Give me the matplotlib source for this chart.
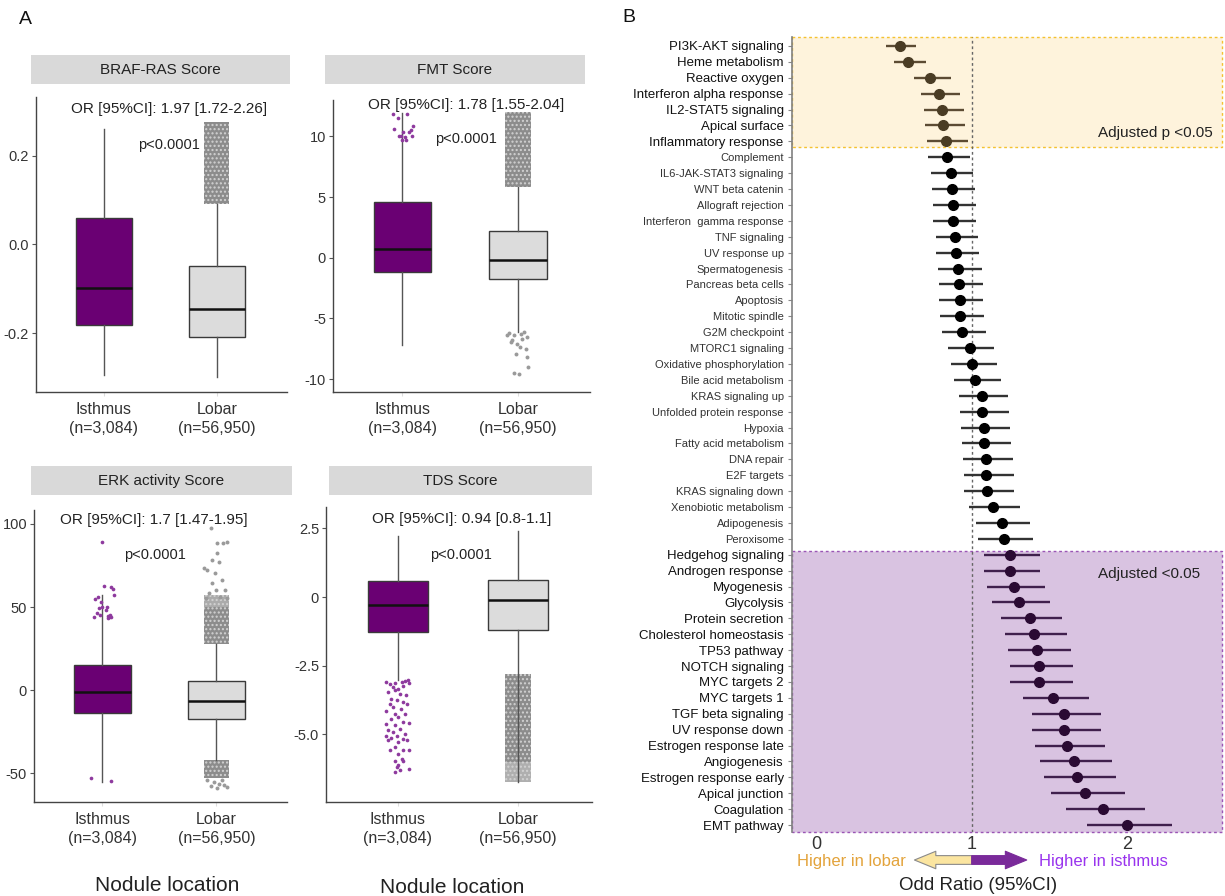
import numpy as np
import matplotlib.pyplot as plt
from matplotlib import font_manager
from matplotlib.patches import Rectangle

plt.rcParams["font.family"] = ["Liberation Sans", "DejaVu Sans"]

# ---------------- Panel A: box plots ----------------
titles = ["BRAF-RAS Score", "FMT Score", "ERK activity Score", "TDS Score"]
group_labels = ["Isthmus\n(n=3,084)", "Lobar\n(n=56,950)"]
or_labels = ["OR [95%CI]: 1.97 [1.72-2.26]", "OR [95%CI]: 1.78 [1.55-2.04]",
             "OR [95%CI]: 1.7 [1.47-1.95]", "OR [95%CI]: 0.94 [0.8-1.1]"]
p_label = "p<0.0001"

# whisker low, q1, median, q3, whisker high
braf_isthmus = [-0.293, -0.182, -0.099, 0.059, 0.260]
braf_lobar = [-0.299, -0.209, -0.145, -0.048, 0.092]
fmt_isthmus = [-7.2, -1.21, 0.74, 4.63, 11.9]
fmt_lobar = [-6.1, -1.76, -0.17, 2.18, 5.8]
erk_isthmus = [-55.2, -13.7, -1.4, 15.1, 57.2]
erk_lobar = [-41.8, -17.5, -6.6, 5.8, 28.0]
tds_isthmus = [-3.03, -1.27, -0.28, 0.57, 2.21]
tds_lobar = [-6.74, -1.18, -0.12, 0.61, 2.39]

# dense bands of jittered lobar outliers: low, high, relative density
braf_cloud_lo, braf_cloud_hi, braf_cloud_dens = [0.092], [0.275], [1.0]
fmt_cloud_lo, fmt_cloud_hi, fmt_cloud_dens = [5.8], [12.0], [1.0]
erk_cloud_lo, erk_cloud_hi, erk_cloud_dens = [28.0, 50.0, -53.0], [50.0, 57.0, -41.8], [1.0, 0.6, 1.0]
tds_cloud_lo, tds_cloud_hi, tds_cloud_dens = [-6.0, -6.74], [-2.79, -6.0], [1.0, 0.55]

# sparse jittered points (value, horizontal jitter)
fmt_isthmus_pts = [11.87, 11.5, 11.87, 10.6, 10.33, 10.88, 10.0, 9.94, 10.5, 10.0, 9.72, 10.0, 9.67, 10.33]
fmt_isthmus_jit = [-0.080, -0.036, 0.036, -0.071, 0.007, 0.088, -0.016, 0.022, 0.071, 0.080, -0.004, -0.028, 0.030, 0.059]
fmt_lobar_pts = [-6.39, -6.2, -6.8, -6.39, -7.08, -6.25, -6.12, -6.53, -7.49, -7.9, -8.18, -9.0, -9.5, -9.56, -6.67, -6.94, -7.36]
fmt_lobar_jit = [-0.094, -0.080, -0.051, -0.036, -0.007, 0.022, 0.051, 0.080, 0.065, -0.022, 0.080, 0.086, -0.036, 0.007, 0.036, -0.065, 0.013]

erk_isthmus_pts = [89.4, 62.7, 62.2, 60.6, 54.6, 56.2, 57.2, 53.2, 49.2, 49.8, 50.2, 48.2, 43.8, 45.2, 43.2,
                   44.2, 46.2, 44.2, 45.2, 44.6, -52.6, -54.6]
erk_isthmus_jit = [0.001, 0.010, 0.074, 0.089, -0.066, -0.042, 0.103, -0.013, -0.028, 0.001, 0.039, 0.031, 0.060, 0.069, 0.045,
                   0.074, -0.048, -0.071, -0.019, 0.051, -0.101, 0.080]
erk_lobar_pts = [97.4, 88.8, 88.8, 89.4, 78.3, 82.3, 77.3, 72.3, 73.3, 70.3, 66.3, 64.3, 60.2, 60.2, 58.2, 56.2, 55.2, 55.2,
                 -57.8, -58.6, -57.2, -58.2, -55.2, -54.2, -54.2, -56.2]
erk_lobar_jit = [-0.051, 0.007, 0.060, 0.095, -0.036, 0.007, 0.022, -0.080, -0.109, -0.013, 0.051, -0.036, 0.080, -0.007, -0.066, 0.036, 0.095, -0.095,
                 -0.051, 0.007, 0.066, 0.095, -0.022, 0.051, -0.080, 0.022]

tds_isthmus_pts = [-3.09, -3.16, -3.13, -3.09, -3.06, -3.03, -3.13, -3.28, -3.34, -3.22, -3.46, -3.40, -3.52, -3.58,
                   -3.70, -3.76, -3.82, -3.88, -4.00, -4.07, -3.91, -4.13, -4.25, -4.25, -4.37, -4.43, -4.55, -4.61,
                   -4.59, -4.67, -4.79, -4.85, -4.92, -4.98, -5.04, -5.04, -5.12, -5.16, -5.28, -5.22, -5.22, -5.46,
                   -5.56, -5.56, -5.58, -5.70, -5.89, -5.97, -5.95, -6.13, -6.25, -6.37, -6.31, -6.19]
tds_isthmus_jit = [-0.096, -0.068, -0.025, 0.031, 0.059, 0.088, 0.096, -0.040, 0.003, 0.045, -0.082, -0.025, 0.017, 0.068,
                   -0.054, -0.011, 0.045, -0.068, -0.040, 0.023, 0.074, -0.096, -0.025, 0.059, 0.003, -0.054, 0.045, -0.096,
                   0.096, -0.025, 0.017, -0.082, -0.040, 0.059, -0.096, -0.006, -0.054, 0.040, 0.003, -0.082, 0.074, -0.025,
                   -0.068, 0.045, 0.096, 0.003, 0.031, -0.025, 0.045, 0.003, 0.096, -0.025, 0.017, -0.011]

# ---------------- Panel B: forest plot ----------------
pathways = [
    "PI3K-AKT signaling", "Heme metabolism", "Reactive oxygen", "Interferon alpha response",
    "IL2-STAT5 signaling", "Apical surface", "Inflammatory response", "Complement",
    "IL6-JAK-STAT3 signaling", "WNT beta catenin", "Allograft rejection", "Interferon  gamma response",
    "TNF signaling", "UV response up", "Spermatogenesis", "Pancreas beta cells", "Apoptosis",
    "Mitotic spindle", "G2M checkpoint", "MTORC1 signaling", "Oxidative phosphorylation",
    "Bile acid metabolism", "KRAS signaling up", "Unfolded protein response", "Hypoxia",
    "Fatty acid metabolism", "DNA repair", "E2F targets", "KRAS signaling down",
    "Xenobiotic metabolism", "Adipogenesis", "Peroxisome", "Hedgehog signaling",
    "Androgen response", "Myogenesis", "Glycolysis", "Protein secretion",
    "Cholesterol homeostasis", "TP53 pathway", "NOTCH signaling", "MYC targets 2",
    "MYC targets 1", "TGF beta signaling", "UV response down", "Estrogen response late",
    "Angiogenesis", "Estrogen response early", "Apical junction", "Coagulation", "EMT pathway",
]
odds_ratio = [0.535, 0.589, 0.732, 0.789, 0.809, 0.817, 0.832, 0.843, 0.866, 0.873,
              0.881, 0.881, 0.894, 0.899, 0.914, 0.919, 0.922, 0.927, 0.937, 0.986,
              1.001, 1.024, 1.065, 1.068, 1.076, 1.081, 1.091, 1.093, 1.099, 1.137,
              1.193, 1.206, 1.247, 1.247, 1.275, 1.303, 1.373, 1.401, 1.424, 1.434,
              1.437, 1.526, 1.598, 1.598, 1.616, 1.657, 1.682, 1.734, 1.846, 2.000]
ci_low = [0.448, 0.497, 0.625, 0.671, 0.689, 0.699, 0.709, 0.720, 0.740, 0.745,
          0.753, 0.753, 0.771, 0.768, 0.784, 0.789, 0.789, 0.794, 0.807, 0.848,
          0.863, 0.883, 0.919, 0.924, 0.930, 0.935, 0.945, 0.948, 0.953, 0.981,
          1.029, 1.042, 1.078, 1.078, 1.101, 1.129, 1.191, 1.214, 1.237, 1.245,
          1.247, 1.329, 1.391, 1.391, 1.406, 1.442, 1.465, 1.511, 1.611, 1.744]
ci_high = [0.638, 0.702, 0.863, 0.924, 0.950, 0.958, 0.973, 0.986, 1.011, 1.022,
           1.027, 1.027, 1.040, 1.047, 1.065, 1.070, 1.073, 1.078, 1.091, 1.145,
           1.163, 1.191, 1.237, 1.239, 1.247, 1.255, 1.268, 1.270, 1.275, 1.314,
           1.378, 1.393, 1.442, 1.442, 1.470, 1.506, 1.585, 1.613, 1.641, 1.652,
           1.654, 1.757, 1.834, 1.836, 1.857, 1.905, 1.933, 1.992, 2.115, 2.292]
n_lower = 7    # adjusted p<0.05, higher in lobar
n_upper = 18   # adjusted p<0.05, higher in isthmus

W, H = 1225, 896
PURPLE = "#6A0073"
GREY_BOX = "#DCDCDC"


def px_rect(l, t, r, b):
    return [l / W, 1 - b / H, (r - l) / W, (b - t) / H]


fig = plt.figure(figsize=(W / 100, H / 100), dpi=100)

panels = [
    dict(box=(braf_isthmus, braf_lobar), ax=(36, 97, 287, 392), head=(31, 55, 290, 84),
         ylim=(-0.332, 0.332), yticks=[-0.2, 0.0, 0.2], ytl=["-0.2", "0.0", "0.2"],
         or_xy=(1.58, 0.305), p_xy=(1.58, 0.223),
         cloud=(braf_cloud_lo, braf_cloud_hi, braf_cloud_dens), ipts=None, lpts=None),
    dict(box=(fmt_isthmus, fmt_lobar), ax=(333, 100, 590, 392), head=(325, 55, 585, 84),
         ylim=(-11.07, 13.0), yticks=[-10, -5, 0, 5, 10], ytl=["-10", "-5", "0", "5", "10"],
         or_xy=(1.55, 12.6), p_xy=(1.55, 9.8),
         cloud=(fmt_cloud_lo, fmt_cloud_hi, fmt_cloud_dens),
         ipts=(fmt_isthmus_pts, fmt_isthmus_jit), lpts=(fmt_lobar_pts, fmt_lobar_jit)),
    dict(box=(erk_isthmus, erk_lobar), ax=(34, 510, 287, 802), head=(31, 466, 292, 495),
         ylim=(-67.3, 108.4), yticks=[-50, 0, 50, 100], ytl=["-50", "0", "50", "100"],
         or_xy=(1.45, 102.4), p_xy=(1.46, 81.3),
         cloud=(erk_cloud_lo, erk_cloud_hi, erk_cloud_dens),
         ipts=(erk_isthmus_pts, erk_isthmus_jit), lpts=(erk_lobar_pts, erk_lobar_jit)),
    dict(box=(tds_isthmus, tds_lobar), ax=(326, 507, 592, 802), head=(329, 466, 592, 495),
         ylim=(-7.46, 3.28), yticks=[-5.0, -2.5, 0, 2.5], ytl=["-5.0", "-2.5", "0", "2.5"],
         or_xy=(1.53, 2.85), p_xy=(1.53, 1.52),
         cloud=(tds_cloud_lo, tds_cloud_hi, tds_cloud_dens),
         ipts=(tds_isthmus_pts, tds_isthmus_jit), lpts=None),
]

for k, p in enumerate(panels):
    ax = fig.add_axes(px_rect(*p["ax"]))
    stats = [dict(whislo=v[0], q1=v[1], med=v[2], q3=v[3], whishi=v[4], fliers=[]) for v in p["box"]]
    bp = ax.bxp(stats, positions=[1, 2], widths=0.5, patch_artist=True,
                showcaps=False, showfliers=False,
                boxprops=dict(linewidth=1.0, edgecolor="#3a3a3a"),
                medianprops=dict(color="#111111", linewidth=1.8, zorder=3),
                whiskerprops=dict(color="#555555", linewidth=1.0, zorder=3.5))
    for patch, fc in zip(bp["boxes"], [PURPLE, GREY_BOX]):
        patch.set_facecolor(fc)

    for lo, hi, dens in zip(*p["cloud"]):
        g = 0.55 + 0.3 * (1 - dens)
        ax.bar(2, hi - lo, bottom=lo, width=0.22, color=(g, g, g), edgecolor="#d2d2d2",
               linewidth=0, hatch="....", zorder=3)
    if p["ipts"]:
        vals, jit = p["ipts"]
        ax.scatter(1 + np.array(jit), vals, s=7, color="#8E3A9E", linewidths=0, zorder=4)
    if p["lpts"]:
        vals, jit = p["lpts"]
        ax.scatter(2 + np.array(jit), vals, s=8, color="#9a9a9a", linewidths=0, zorder=4)

    ax.text(*p["or_xy"], or_labels[k], ha="center", va="center", fontsize=11, color="#222222")
    ax.text(*p["p_xy"], p_label, ha="center", va="center", fontsize=10.5, color="#222222")

    ax.set_xlim(0.4, 2.62)
    ax.set_ylim(*p["ylim"])
    ax.set_yticks(p["yticks"], p["ytl"])
    ax.set_xticks([1, 2], group_labels)
    for t in ax.get_xticklabels():
        t.set_linespacing(1.35)
    ax.tick_params(axis="y", length=3, width=0.8, color="#555555", labelsize=10.5,
                   labelcolor="#333333", pad=2)
    ax.tick_params(axis="x", length=3, width=0.8, color="#dddddd", labelsize=11.5,
                   labelcolor="#333333", pad=4)
    for side in ["top", "right"]:
        ax.spines[side].set_visible(False)
    for side in ["left", "bottom"]:
        ax.spines[side].set_color("#444444")
        ax.spines[side].set_linewidth(1.0)

    l, t, r, b = p["head"]
    fig.patches.append(Rectangle((l / W, 1 - b / H), (r - l) / W, (b - t) / H,
                                 transform=fig.transFigure, facecolor="#D9D9D9",
                                 edgecolor="none", zorder=0))
    fig.text((l + r) / 2 / W, 1 - (t + b) / 2 / H, titles[k], ha="center", va="center",
             fontsize=11, color="#222222")

fig.text(167 / W, 1 - 885 / H, "Nodule location", ha="center", va="center", fontsize=15, color="#222222")
fig.text(452 / W, 1 - 887 / H, "Nodule location", ha="center", va="center", fontsize=15, color="#222222")
fig.text(25 / W, 1 - 19 / H, "A", ha="center", va="center", fontsize=14, color="#111111")
fig.text(629 / W, 1 - 18 / H, "B", ha="center", va="center", fontsize=14, color="#111111")

# ---------------- forest plot ----------------
names = {f.name for f in font_manager.fontManager.ttflist}
has_narrow = "Liberation Sans Narrow" in names

axf = fig.add_axes(px_rect(792, 37, 1222, 832))
n = len(pathways)
y = np.arange(1, n + 1)
axf.set_xlim(-0.16, 2.615)
axf.set_ylim(n + 0.44, 0.44)

axf.axhspan(0.44, n_lower + 0.34, facecolor="#FEF3DC", edgecolor="#F4C230",
            linestyle=(0, (2, 2)), linewidth=1.0, zorder=0, clip_on=False)
axf.axhspan(n - n_upper + 0.75, n + 0.44, facecolor="#D9C3E1", edgecolor="#9B55B5",
            linestyle=(0, (2, 2)), linewidth=1.0, zorder=0, clip_on=False)
axf.axvline(1, color="#666666", linestyle=(0, (2, 2)), linewidth=1.0, zorder=1)

or_arr = np.array(odds_ratio)
lo_arr = np.array(ci_low)
hi_arr = np.array(ci_high)
segments = [
    (slice(0, n_lower), "#5C4B33", "#4A3C24"),
    (slice(n_lower, n - n_upper), "#333333", "#000000"),
    (slice(n - n_upper, n), "#40204D", "#2A0A33"),
]
for sl, lc, mc in segments:
    axf.hlines(y[sl], lo_arr[sl], hi_arr[sl], color=lc, linewidth=1.7, zorder=2)
    axf.plot(or_arr[sl], y[sl], "o", markersize=7, color=mc, zorder=3)

axf.text(1.815, 6.5, "Adjusted p <0.05", ha="left", va="center", fontsize=11, color="#222222")
axf.text(1.815, 34.2, "Adjusted <0.05", ha="left", va="center", fontsize=11, color="#222222")

axf.set_yticks(y, pathways)
for i, t in enumerate(axf.get_yticklabels()):
    if n_lower <= i < n - n_upper:
        if has_narrow:
            t.set_fontfamily(["Liberation Sans Narrow", "Liberation Sans"])
            t.set_fontsize(9.5)
        else:
            t.set_fontsize(8)
        t.set_color("#333333")
    else:
        t.set_fontsize(9.5)
        t.set_color("#111111")
axf.set_xticks([0, 1, 2], ["0", "1", "2"])
axf.tick_params(axis="x", length=0, labelsize=13, labelcolor="#333333", pad=3)
axf.tick_params(axis="y", length=3, width=0.8, color="#888888", pad=3)
for side in ["top", "right", "bottom"]:
    axf.spines[side].set_visible(False)
axf.spines["left"].set_color("#808080")
axf.spines["left"].set_linewidth(1.2)

arrow_y = (832 - 860) / (832 - 37)
axf.annotate("", xy=(0.63, arrow_y), xytext=(1.0, arrow_y),
             xycoords=("data", "axes fraction"), textcoords=("data", "axes fraction"),
             arrowprops=dict(arrowstyle="simple,head_length=1.1,head_width=0.9,tail_width=0.45",
                             mutation_scale=14, fc="#FBE5A0", ec="#8a8a8a", lw=0.8,
                             shrinkA=0, shrinkB=0), annotation_clip=False)
axf.annotate("", xy=(1.355, arrow_y), xytext=(1.0, arrow_y),
             xycoords=("data", "axes fraction"), textcoords=("data", "axes fraction"),
             arrowprops=dict(arrowstyle="simple,head_length=1.1,head_width=0.9,tail_width=0.45",
                             mutation_scale=14, fc="#7A2A9A", ec="#7A2A9A", lw=0.8,
                             shrinkA=0, shrinkB=0), annotation_clip=False)
fig.text(906 / W, 1 - 861 / H, "Higher in lobar", ha="right", va="center", fontsize=12, color="#E3A33B")
fig.text(1039 / W, 1 - 861 / H, "Higher in isthmus", ha="left", va="center", fontsize=12, color="#9933EE")
fig.text(978 / W, 1 - 885 / H, "Odd Ratio (95%CI)", ha="center", va="center", fontsize=13.5, color="#222222")

fig.savefig("out.png", dpi=100)
